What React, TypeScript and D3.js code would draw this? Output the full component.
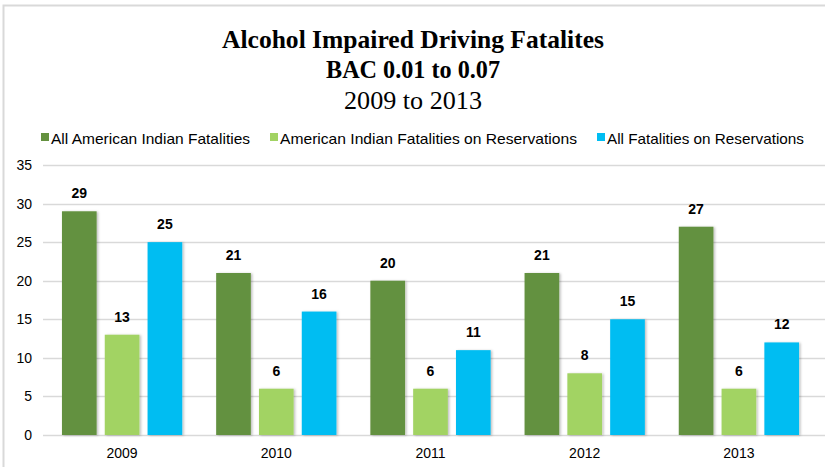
import React, { useEffect, useRef } from "react"
import * as d3 from "d3"

// chart data
const years = ["2009", "2010", "2011", "2012", "2013"]
const seriesNames = [
  "All American Indian Fatalities",
  "American Indian Fatalities on Reservations",
  "All Fatalities on Reservations",
]
const allAmericanIndian = [29, 21, 20, 21, 27]
const aiOnReservations = [13, 6, 6, 8, 6]
const allOnReservations = [25, 16, 11, 15, 12]
const yTicks = [0, 5, 10, 15, 20, 25, 30, 35]
const colors = ["#64913f", "#a2d363", "#00bdf2"]

export default function App() {
  const ref = useRef<SVGSVGElement>(null)

  useEffect(() => {
    const width = 825,
      height = 467
    const margin = { left: 45, right: 9, top: 165, bottom: 32 }

    const svg = d3.select(ref.current)
    svg.selectAll("*").remove()
    svg.attr("width", width).attr("height", height)

    const defs = svg.append("defs")
    const filter = defs.append("filter").attr("id", "shadow").attr("x", "-20%").attr("width", "150%")
    filter
      .append("feDropShadow")
      .attr("dx", 1.5)
      .attr("dy", 0.5)
      .attr("stdDeviation", 1)
      .attr("flood-color", "#000")
      .attr("flood-opacity", 0.25)

    // outer frame
    svg
      .append("path")
      .attr("d", `M3.5,${height} V5.5 H${width}`)
      .attr("fill", "none")
      .attr("stroke", "#d9d9d9")
      .attr("stroke-width", 2)

    // title (widths matched to the original)
    const titleLines = [
      { text: "Alcohol Impaired Driving Fatalites", y: 48, bold: true, len: 382 },
      { text: "BAC 0.01 to 0.07", y: 78, bold: true, len: 174 },
      { text: "2009 to 2013", y: 109, bold: false, len: 138 },
    ]
    svg
      .append("g")
      .selectAll("text")
      .data(titleLines)
      .enter()
      .append("text")
      .attr("x", 413)
      .attr("y", (d) => d.y)
      .attr("text-anchor", "middle")
      .attr("font-family", "'Liberation Serif', 'Times New Roman', serif")
      .attr("font-size", 25)
      .attr("font-weight", (d) => (d.bold ? "bold" : "normal"))
      .attr("textLength", (d) => d.len)
      .attr("lengthAdjust", "spacingAndGlyphs")
      .attr("fill", "#000")
      .text((d) => d.text)

    const y = d3
      .scaleLinear()
      .domain([0, 35])
      .range([height - margin.bottom, margin.top])

    const x0 = d3
      .scaleBand()
      .domain(years)
      .range([margin.left, width - margin.right])
      .paddingInner(0.22)
      .paddingOuter(0.11)

    const x1 = d3
      .scaleBand()
      .domain(seriesNames)
      .range([0, x0.bandwidth()])
      .paddingInner(0.19)

    // gridlines
    svg
      .append("g")
      .selectAll("line")
      .data(yTicks)
      .enter()
      .append("line")
      .attr("x1", 43)
      .attr("x2", width)
      .attr("y1", (d) => Math.round(y(d)) + 0.5)
      .attr("y2", (d) => Math.round(y(d)) + 0.5)
      .attr("stroke", "#d9d9d9")
      .attr("stroke-width", 1.5)

    // y tick labels
    svg
      .append("g")
      .selectAll("text")
      .data(yTicks)
      .enter()
      .append("text")
      .attr("x", 32)
      .attr("y", (d) => y(d) + 5)
      .attr("text-anchor", "end")
      .attr("font-family", "'Liberation Sans', Arial, sans-serif")
      .attr("font-size", 14)
      .attr("fill", "#000")
      .text((d) => d)

    // x labels
    svg
      .append("g")
      .selectAll("text")
      .data(years)
      .enter()
      .append("text")
      .attr("x", (d) => x0(d)! + x0.bandwidth() / 2)
      .attr("y", 458)
      .attr("text-anchor", "middle")
      .attr("font-family", "'Liberation Sans', Arial, sans-serif")
      .attr("font-size", 14)
      .attr("fill", "#000")
      .text((d) => d)

    const series = [allAmericanIndian, aiOnReservations, allOnReservations]
    const rows = years.map((yr, i) => ({
      year: yr,
      values: seriesNames.map((name, s) => ({ name, s, value: series[s][i] })),
    }))

    const groups = svg
      .append("g")
      .selectAll("g")
      .data(rows)
      .enter()
      .append("g")
      .attr("transform", (d) => "translate(" + x0(d.year) + ",0)")

    groups
      .selectAll("rect")
      .data((d) => d.values)
      .enter()
      .append("rect")
      .attr("x", (d) => x1(d.name)!)
      .attr("y", (d) => y(d.value))
      .attr("width", x1.bandwidth())
      .attr("height", (d) => y(0) - y(d.value))
      .attr("fill", (d) => colors[d.s])
      .attr("filter", "url(#shadow)")

    groups
      .selectAll("text")
      .data((d) => d.values)
      .enter()
      .append("text")
      .attr("x", (d) => x1(d.name)! + x1.bandwidth() / 2)
      .attr("y", (d) => y(d.value) - 13)
      .attr("text-anchor", "middle")
      .attr("font-family", "'Liberation Sans', Arial, sans-serif")
      .attr("font-size", 14)
      .attr("font-weight", "bold")
      .attr("fill", "#000")
      .text((d) => d.value)

    // legend
    const legendX = [41, 270, 597]
    const legendLen = [199, 297, 197]
    const legend = svg
      .append("g")
      .selectAll("g")
      .data(seriesNames)
      .enter()
      .append("g")
      .attr("transform", (d, i) => "translate(" + legendX[i] + ",133)")
    legend
      .append("rect")
      .attr("x", 0)
      .attr("y", 0)
      .attr("width", 8)
      .attr("height", 8)
      .attr("fill", (d, i) => colors[i])
    legend
      .append("text")
      .attr("x", 10)
      .attr("y", 11)
      .attr("font-family", "'Liberation Sans', Arial, sans-serif")
      .attr("font-size", 15)
      .attr("textLength", (d, i) => legendLen[i])
      .attr("lengthAdjust", "spacingAndGlyphs")
      .attr("fill", "#000")
      .text((d) => d)
  }, [])

  return (
    <div style={{ position: "absolute", left: 0, top: 0, background: "#fff" }}>
      <svg ref={ref} style={{ display: "block" }} />
    </div>
  )
}
